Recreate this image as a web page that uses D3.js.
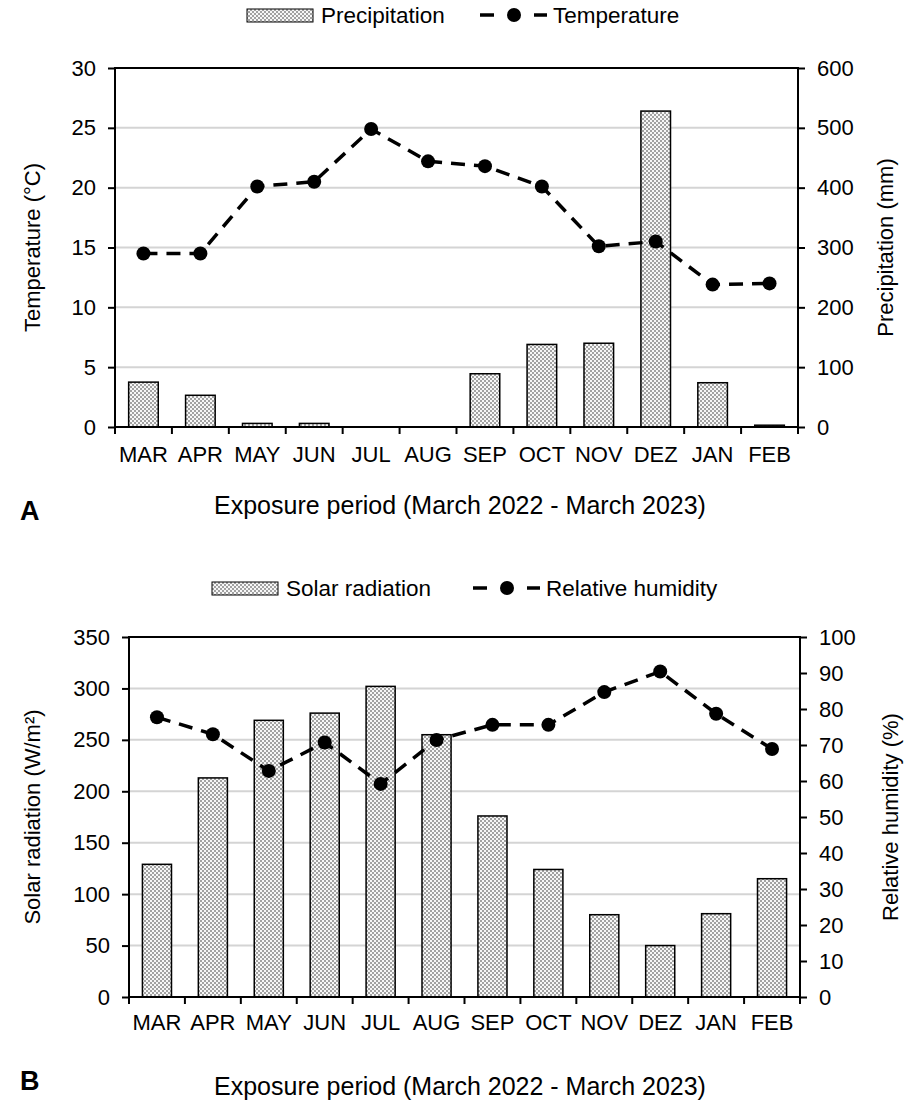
<!DOCTYPE html>
<html>
<head>
<meta charset="utf-8">
<script src="https://cdn.jsdelivr.net/npm/d3@7"></script>
<style>
  body { margin: 0; background: #fff; }
  svg text { font-family: "Liberation Sans", Arial, sans-serif; fill: #000; }
</style>
</head>
<body>
<div id="viz"></div>
<script>
// months of the exposure period
const months = ["MAR", "APR", "MAY", "JUN", "JUL", "AUG", "SEP", "OCT", "NOV", "DEZ", "JAN", "FEB"];

// panel A
const precipitation = [75, 53, 6, 6, 0, 0, 89, 138, 140, 528, 74, 3];
const temperature = [14.5, 14.5, 20.1, 20.5, 24.9, 22.2, 21.8, 20.1, 15.1, 15.5, 11.9, 12.0];
const temperatureTicks = [0, 5, 10, 15, 20, 25, 30];
const precipitationTicks = [0, 100, 200, 300, 400, 500, 600];

// panel B
const solarRadiation = [129, 213, 269, 276, 302, 255, 176, 124, 80, 50, 81, 115];
const relativeHumidity = [77.7, 73.0, 62.8, 70.7, 59.2, 71.4, 75.6, 75.6, 84.7, 90.4, 78.7, 68.9];
const solarTicks = [0, 50, 100, 150, 200, 250, 300, 350];
const humidityTicks = [0, 10, 20, 30, 40, 50, 60, 70, 80, 90, 100];

const width = 921;
const height = 1106;

const svg = d3.select("#viz")
    .append("svg")
    .attr("width", width)
    .attr("height", height);

// dotted fill for the bars
const pattern = svg.append("defs")
    .append("pattern")
    .attr("id", "dots")
    .attr("patternUnits", "userSpaceOnUse")
    .attr("width", 4)
    .attr("height", 4);
pattern.append("rect").attr("width", 4).attr("height", 4).attr("fill", "#f7f7f7");
pattern.append("circle").attr("cx", 1).attr("cy", 1).attr("r", 0.75).attr("fill", "#222");
pattern.append("circle").attr("cx", 3).attr("cy", 3).attr("r", 0.75).attr("fill", "#222");

function drawPanel(p) {
    const g = svg.append("g");

    const x = d3.scaleBand()
        .domain(months)
        .range([p.left, p.right])
        .paddingInner(0.48)
        .paddingOuter(0.24);

    const yLeft = d3.scaleLinear()
        .domain([0, d3.max(p.leftTicks)])
        .range([p.bottom, p.top]);

    const yRight = d3.scaleLinear()
        .domain([0, d3.max(p.rightTicks)])
        .range([p.bottom, p.top]);

    const yBar = p.barsOnLeft ? yLeft : yRight;
    const yLine = p.barsOnLeft ? yRight : yLeft;

    // gridlines from the left axis
    g.append("g")
        .selectAll("line")
        .data(p.leftTicks.slice(1, -1))
        .enter()
        .append("line")
        .attr("x1", p.left)
        .attr("x2", p.right)
        .attr("y1", d => yLeft(d))
        .attr("y2", d => yLeft(d))
        .attr("stroke", "#d4d4d4")
        .attr("stroke-width", 2);

    // bars
    g.append("g")
        .selectAll("rect")
        .data(p.bars)
        .enter()
        .append("rect")
        .attr("x", (d, i) => x(months[i]))
        .attr("width", x.bandwidth())
        .attr("y", d => yBar(d))
        .attr("height", d => p.bottom - yBar(d))
        .attr("fill", "url(#dots)")
        .attr("stroke", d => d > 0 ? "#000" : "none")
        .attr("stroke-width", 1.5);

    // dashed line with markers
    const cx = i => x(months[i]) + x.bandwidth() / 2;
    const line = d3.line()
        .x((d, i) => cx(i))
        .y(d => yLine(d));

    g.append("path")
        .attr("d", line(p.line))
        .attr("fill", "none")
        .attr("stroke", "#000")
        .attr("stroke-width", 3.5)
        .attr("stroke-dasharray", "14,9");

    g.append("g")
        .selectAll("circle")
        .data(p.line)
        .enter()
        .append("circle")
        .attr("cx", (d, i) => cx(i))
        .attr("cy", d => yLine(d))
        .attr("r", 7)
        .attr("fill", "#000");

    // axes
    const fontSize = "22px";

    const leftAxis = g.append("g")
        .attr("transform", `translate(${p.left},0)`)
        .call(d3.axisLeft(yLeft).tickValues(p.leftTicks).tickSize(7).tickPadding(12));

    const rightAxis = g.append("g")
        .attr("transform", `translate(${p.right},0)`)
        .call(d3.axisRight(yRight).tickValues(p.rightTicks).tickSize(7).tickPadding(12));

    const bottomAxis = g.append("g")
        .attr("transform", `translate(0,${p.bottom})`)
        .call(d3.axisBottom(x).tickSize(0).tickPadding(p.labelPad));

    // tick marks between the months
    const edges = d3.range(months.length + 1).map(i => p.left + i * (p.right - p.left) / months.length);
    g.append("g")
        .selectAll("line")
        .data(edges)
        .enter()
        .append("line")
        .attr("x1", d => d)
        .attr("x2", d => d)
        .attr("y1", p.bottom)
        .attr("y2", p.bottom + 7)
        .attr("stroke", "#000")
        .attr("stroke-width", 2);

    [leftAxis, rightAxis, bottomAxis].forEach(a => {
        a.select(".domain").remove();
        a.selectAll("line").attr("stroke", "#000").attr("stroke-width", 2);
        a.selectAll("text")
            .style("font-family", "'Liberation Sans', Arial, sans-serif")
            .style("font-size", fontSize)
            .attr("fill", "#000");
    });

    // frame
    g.append("rect")
        .attr("x", p.left)
        .attr("y", p.top)
        .attr("width", p.right - p.left)
        .attr("height", p.bottom - p.top)
        .attr("fill", "none")
        .attr("stroke", "#000")
        .attr("stroke-width", 2);

    // axis titles
    const mid = (p.top + p.bottom) / 2;
    g.append("text")
        .attr("transform", `translate(${p.leftTitleX},${mid}) rotate(-90)`)
        .attr("text-anchor", "middle")
        .style("font-size", "22px")
        .text(p.leftTitle);

    g.append("text")
        .attr("transform", `translate(${p.rightTitleX},${mid}) rotate(-90)`)
        .attr("text-anchor", "middle")
        .style("font-size", "22px")
        .text(p.rightTitle);

    g.append("text")
        .attr("x", 460)
        .attr("y", p.titleY)
        .attr("text-anchor", "middle")
        .style("font-size", "25px")
        .text("Exposure period (March 2022 - March 2023)");

    g.append("text")
        .attr("x", 20)
        .attr("y", p.letterY)
        .style("font-size", "27px")
        .style("font-weight", "bold")
        .text(p.letter);

    // legend
    const lg = g.append("g").attr("transform", `translate(0,${p.legendY})`);
    lg.append("rect")
        .attr("x", p.legendX)
        .attr("y", -6)
        .attr("width", 66)
        .attr("height", 13)
        .attr("fill", "url(#dots)")
        .attr("stroke", "#000")
        .attr("stroke-width", 1);
    lg.append("text")
        .attr("x", p.legendX + 74)
        .attr("y", 8)
        .style("font-size", "22.5px")
        .text(p.barLabel);

    const lx = p.legendLineX;
    lg.append("line")
        .attr("x1", lx).attr("x2", lx + 14)
        .attr("y1", 0).attr("y2", 0)
        .attr("stroke", "#000").attr("stroke-width", 3.5);
    lg.append("circle")
        .attr("cx", lx + 34).attr("cy", 0).attr("r", 7)
        .attr("fill", "#000");
    lg.append("line")
        .attr("x1", lx + 54).attr("x2", lx + 67)
        .attr("y1", 0).attr("y2", 0)
        .attr("stroke", "#000").attr("stroke-width", 3.5);
    lg.append("text")
        .attr("x", lx + 73)
        .attr("y", 8)
        .style("font-size", "22.5px")
        .text(p.lineLabel);
}

drawPanel({
    left: 115, right: 798, top: 68, bottom: 427,
    bars: precipitation, line: temperature,
    leftTicks: temperatureTicks, rightTicks: precipitationTicks,
    barsOnLeft: false,
    leftTitle: "Temperature (°C)", rightTitle: "Precipitation (mm)",
    leftTitleX: 40, rightTitleX: 893,
    labelPad: 19,
    titleY: 514, letter: "A", letterY: 520,
    legendY: 15, legendX: 247, barLabel: "Precipitation",
    legendLineX: 480, lineLabel: "Temperature"
});

drawPanel({
    left: 129, right: 800, top: 637, bottom: 997,
    bars: solarRadiation, line: relativeHumidity,
    leftTicks: solarTicks, rightTicks: humidityTicks,
    barsOnLeft: true,
    leftTitle: "Solar radiation (W/m²)", rightTitle: "Relative humidity (%)",
    leftTitleX: 40, rightTitleX: 898,
    labelPad: 17,
    titleY: 1095, letter: "B", letterY: 1090,
    legendY: 588, legendX: 212, barLabel: "Solar radiation",
    legendLineX: 473, lineLabel: "Relative humidity"
});
</script>
</body>
</html>
